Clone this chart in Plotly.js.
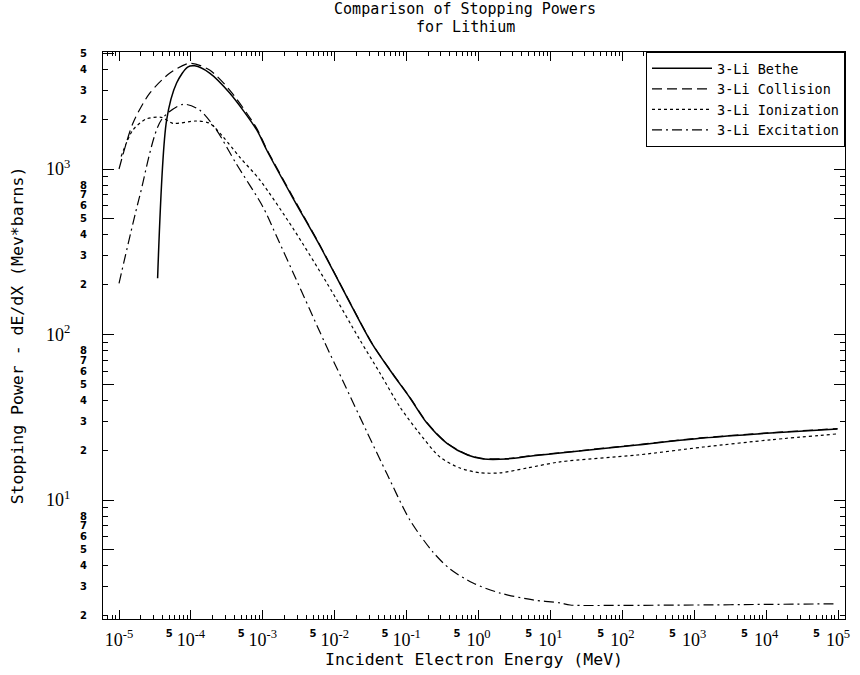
<!DOCTYPE html>
<html>
<head>
<meta charset="utf-8">
<script src="https://cdn.plot.ly/plotly-3.0.1.min.js"></script>
<style>html,body{margin:0;padding:0;background:#fff}</style>
</head>
<body>
<div id="chart" style="width:860px;height:675px"></div>
<script>
// ---- data (energies in MeV, stopping power in MeV*barns) ----
const seriesNames = ["3-Li Bethe", "3-Li Collision", "3-Li Ionization", "3-Li Excitation"];

const betheEnergy = [3.44e-5, 4.59e-5, 6.32e-5, 8.99e-5, 1.13e-4, 1.82e-4, 3.46e-4, 8.22e-4, 1.13e-3, 2.61e-3, 6.19e-3, 1.47e-2, 3.30e-2, 6.44e-2, 0.111, 0.189, 0.364, 0.703, 1.17, 2.45, 5.74, 13.6, 161, 1340, 11500, 98400];
const betheValue  = [219, 1977, 3311, 4130, 4200, 3800, 2877, 1722, 1303, 670, 345, 169, 88, 57.5, 41.5, 29.4, 22.0, 18.7, 17.7, 17.7, 18.5, 19.2, 21.5, 23.7, 25.4, 26.9];

const collisionEnergy = [1.0e-5, 1.56e-5, 2.66e-5, 5.05e-5, 9.6e-5, 1.82e-4, 3.46e-4, 8.22e-4, 1.13e-3, 2.61e-3, 6.19e-3, 1.47e-2, 3.30e-2, 6.44e-2, 0.111, 0.189, 0.364, 0.703, 1.17, 2.45, 5.74, 13.6, 161, 1340, 11500, 98400];
const collisionValue  = [1000, 1889, 2864, 3785, 4355, 3960, 3000, 1760, 1320, 680, 348, 170, 88.5, 57.8, 41.7, 29.6, 22.1, 18.8, 17.8, 17.8, 18.6, 19.3, 21.6, 23.8, 25.5, 27.0];

const ionizationEnergy = [1.07e-5, 1.56e-5, 2.39e-5, 3.87e-5, 5.61e-5, 1.19e-4, 1.82e-4, 2.79e-4, 4.76e-4, 9.06e-4, 2.61e-3, 7.76e-3, 2.24e-2, 4.25e-2, 8.07e-2, 0.139, 0.290, 0.552, 1.05, 1.99, 4.74, 13.6, 161, 1340, 11500, 98400];
const ionizationValue  = [1190, 1722, 2005, 2053, 1889, 1950, 1889, 1567, 1180, 860, 440, 205, 92.7, 58.5, 36.5, 26.5, 18.2, 15.6, 14.6, 14.6, 15.6, 17.0, 18.7, 20.9, 23.1, 25.1];

const excitationEnergy = [1.0e-5, 1.93e-5, 3.87e-5, 7.74e-5, 1.32e-4, 2.26e-4, 4.23e-4, 1.0e-3, 1.57e-3, 2.61e-3, 4.51e-3, 7.29e-3, 1.30e-2, 2.80e-2, 5.32e-2, 0.111, 0.232, 0.401, 0.838, 1.99, 5.74, 13.6, 18.8, 100, 1000, 10000, 98400];
const excitationValue  = [204, 681, 1977, 2460, 2270, 1722, 1083, 592, 388, 239, 141, 89, 52.4, 25.8, 14.4, 7.57, 4.85, 3.83, 3.15, 2.74, 2.49, 2.39, 2.32, 2.31, 2.32, 2.34, 2.36];

// ---- tick definitions ----
const xDecadeTicks  = [1e-5, 1e-4, 1e-3, 1e-2, 1e-1, 1e0, 1e1, 1e2, 1e3, 1e4, 1e5];
const xDecadeLabels = ["10<sup>-5</sup>", "10<sup>-4</sup>", "10<sup>-3</sup>", "10<sup>-2</sup>", "10<sup>-1</sup>", "10<sup>0</sup>", "10<sup>1</sup>", "10<sup>2</sup>", "10<sup>3</sup>", "10<sup>4</sup>", "10<sup>5</sup>"];
const xFiveTicks    = [5e-5, 5e-4, 5e-3, 5e-2, 5e-1, 5e0, 5e1, 5e2, 5e3, 5e4];
const xFiveLabels   = ["5", "5", "5", "5", "5", "5", "5", "5", "5", "5"];
const xMinorMults   = [2, 3, 4, 5, 6, 7, 8, 9];

const yMajorTicks   = [10, 100, 1000, 5, 50, 500, 5000];
const yMajorLabels  = ["10<sup>1</sup>", "10<sup>2</sup>", "10<sup>3</sup>", "", "", "", ""];
const yDigitTicks   = [2, 3, 4, 5, 6, 7, 8, 20, 30, 40, 50, 60, 70, 80, 200, 300, 400, 500, 600, 700, 800, 2000, 3000, 4000, 5000];
const yDigitLabels  = ["2", "3", "4", "5", "6", "7", "8", "2", "3", "4", "5", "6", "7", "8", "2", "3", "4", "5", "6", "7", "8", "2", "3", "4", "5"];
const yMinorMults   = [2, 3, 4, 6, 7, 8, 9];

// ---- build ----
const xMinorTicks = [];
[1e-6, 1e-5, 1e-4, 1e-3, 1e-2, 1e-1, 1e0, 1e1, 1e2, 1e3, 1e4].forEach(d => xMinorMults.forEach(m => xMinorTicks.push(m * d)));
const yMinorTicks = [];
[1, 10, 100, 1000].forEach(d => yMinorMults.forEach(m => yMinorTicks.push(m * d)));

const MONO = '"DejaVu Sans Mono", "Liberation Mono", monospace';
const SERIF = '"Liberation Serif", "DejaVu Serif", serif';
const SMALL = '"DejaVu Sans", sans-serif';

const xs = [betheEnergy, collisionEnergy, ionizationEnergy, excitationEnergy];
const ys = [betheValue, collisionValue, ionizationValue, excitationValue];
const dashes = ["solid", "10px,5px", "3px,3px", "10px,4px,2px,4px"];
const widths = [1.5, 1.2, 1.2, 1.2];

const traces = seriesNames.map((n, i) => ({
  name: n, x: xs[i], y: ys[i], type: "scatter", mode: "lines",
  line: {color: "#000", width: widths[i], dash: dashes[i], shape: "spline", smoothing: 0.8},
  hoverinfo: "skip"
}));
// invisible anchor trace so the overlaid label axes (x2 / y2) are drawn
traces.push({x: [null], y: [null], xaxis: "x2", yaxis: "y2", type: "scatter", mode: "markers",
             showlegend: false, hoverinfo: "skip", marker: {opacity: 0}});

const xRange = [-5.223, 5.097];
const yRange = [0.281, 3.707];

const layout = {
  width: 860, height: 675,
  margin: {l: 103, r: 15, t: 52, b: 56},
  paper_bgcolor: "#fff", plot_bgcolor: "#fff",
  showlegend: true,
  title: {text: "Comparison of Stopping Powers", font: {family: MONO, size: 15, color: "#000"},
          x: 0.5407, xref: "container", xanchor: "center", y: 1 - 9 / 675, yref: "container", yanchor: "middle"},
  annotations: [{text: "for Lithium", xref: "paper", yref: "paper", x: 0.488, y: (619 - 27) / 567, showarrow: false,
                 xanchor: "center", yanchor: "middle", font: {family: MONO, size: 15, color: "#000"}}],
  legend: {x: 1, y: 1, xanchor: "right", yanchor: "top", bgcolor: "#fff", bordercolor: "#000", borderwidth: 1,
           font: {family: MONO, size: 13.5, color: "#000"}, itemwidth: 60},
  xaxis: {
    type: "log", range: xRange, showline: true, linecolor: "#000", linewidth: 1.2, mirror: "ticks",
    ticks: "inside", ticklen: 9, tickwidth: 1, tickcolor: "#000",
    tickmode: "array", tickvals: xDecadeTicks, ticktext: xDecadeLabels,
    tickfont: {family: SERIF, size: 18, color: "#000"}, ticklabelstandoff: 4,
    minor: {tickmode: "array", tickvals: xMinorTicks, ticks: "inside", ticklen: 4, tickwidth: 1, tickcolor: "#000", showgrid: false},
    showgrid: false, zeroline: false,
    title: {text: "Incident Electron Energy (MeV)", font: {family: MONO, size: 16.5, color: "#000"}, standoff: 0}
  },
  xaxis2: {
    type: "log", range: xRange, overlaying: "x", anchor: "y", side: "bottom",
    tickmode: "array", tickvals: xFiveTicks, ticktext: xFiveLabels,
    tickfont: {family: SMALL, size: 10, color: "#000", weight: "bold"},
    ticks: "", showline: false, showgrid: false, zeroline: false, ticklabelstandoff: 7
  },
  yaxis: {
    type: "log", range: yRange, showline: true, linecolor: "#000", linewidth: 1.2, mirror: "ticks",
    ticks: "inside", ticklen: 11, tickwidth: 1, tickcolor: "#000",
    tickmode: "array", tickvals: yMajorTicks, ticktext: yMajorLabels,
    tickfont: {family: SERIF, size: 18, color: "#000"}, ticklabelstandoff: 28,
    minor: {tickmode: "array", tickvals: yMinorTicks, ticks: "inside", ticklen: 5, tickwidth: 1, tickcolor: "#000", showgrid: false},
    showgrid: false, zeroline: false,
    title: {text: "Stopping Power - dE/dX (Mev*barns)", font: {family: MONO, size: 16.5, color: "#000"}, standoff: 18}
  },
  yaxis2: {
    type: "log", range: yRange, overlaying: "y", anchor: "x", side: "left",
    tickmode: "array", tickvals: yDigitTicks, ticktext: yDigitLabels,
    tickfont: {family: SMALL, size: 10, color: "#000", weight: "bold"},
    ticks: "", showline: false, showgrid: false, zeroline: false, ticklabelstandoff: 15
  }
};

Plotly.newPlot("chart", traces, layout, {staticPlot: true, displayModeBar: false});
</script>
</body>
</html>
